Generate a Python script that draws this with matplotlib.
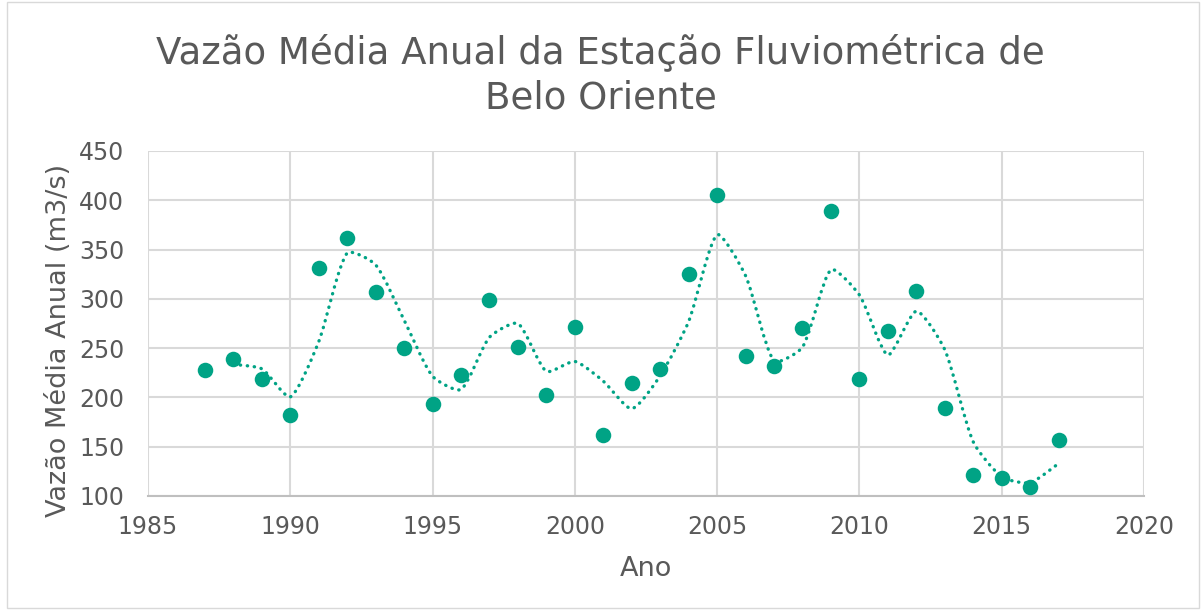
import numpy as np
import matplotlib
matplotlib.use("Agg")
import matplotlib.pyplot as plt
from matplotlib.path import Path
from matplotlib.patches import PathPatch, Rectangle

# dados
anos = [1987, 1988, 1989, 1990, 1991, 1992, 1993, 1994, 1995, 1996,
        1997, 1998, 1999, 2000, 2001, 2002, 2003, 2004, 2005, 2006,
        2007, 2008, 2009, 2010, 2011, 2012, 2013, 2014, 2015, 2016, 2017]
vazao = [228, 239, 219, 182, 331, 362, 307, 250, 193, 223,
         299, 251, 202, 271, 162, 215, 229, 325, 405, 242,
         232, 270, 389, 219, 267, 308, 189, 121, 118, 109, 157]

titulo = "Vazão Média Anual da Estação Fluviométrica de\nBelo Oriente"
cor = "#00a385"
cinza_txt = "#595959"

fig = plt.figure(figsize=(12.01, 6.10), dpi=100)
fig.patches.append(Rectangle((0.006, 0.003), 0.992, 0.994, transform=fig.transFigure,
                             fill=False, edgecolor="#d9d9d9", linewidth=1.0))
ax = fig.add_axes([0.1232, 0.1869, 0.8293, 0.5656])
ax.set_xlim(1985, 2020)
ax.set_ylim(100, 450)

ax.scatter(anos, vazao, s=125, color=cor, zorder=3, linewidths=0)

# média móvel de 2 períodos, linha suavizada (tipo Excel, calculada em pixels)
x = np.array(anos, dtype=float)
v = np.array(vazao, dtype=float)
mm = (v[1:] + v[:-1]) / 2
pts = ax.transData.transform(np.column_stack([x[1:], mm]))
n = len(pts)
verts = [pts[0]]
codes = [Path.MOVETO]
k = 0.22
for i in range(n - 1):
    p0 = pts[i - 1] if i > 0 else pts[i]
    p1 = pts[i]
    p2 = pts[i + 1]
    p3 = pts[i + 2] if i + 2 < n else pts[i + 1]
    d01 = np.hypot(*(p1 - p0))
    d12 = np.hypot(*(p2 - p1))
    d23 = np.hypot(*(p3 - p2))
    f1 = d12 / (d01 + d12) if d01 > 0 else 0.5
    f2 = d12 / (d12 + d23) if d23 > 0 else 0.5
    c1 = p1 + k * f1 * (p2 - p0)
    c2 = p2 - k * f2 * (p3 - p1)
    verts += [c1, c2, p2]
    codes += [Path.CURVE4] * 3
verts = ax.transData.inverted().transform(np.array(verts))
trend = PathPatch(Path(verts, codes), fill=False, edgecolor=cor, linewidth=2.4,
                  linestyle=(0, (0.1, 2.0)), capstyle="round", zorder=2)
ax.add_patch(trend)

ax.set_xticks(range(1985, 2021, 5))
ax.set_yticks(range(100, 451, 50))
ax.grid(True, color="#d9d9d9", linewidth=1.5)
ax.set_axisbelow(True)
for s in ["top", "right", "left"]:
    ax.spines[s].set_visible(False)
ax.spines["bottom"].set_color("#bfbfbf")
ax.spines["bottom"].set_linewidth(1.5)
ax.tick_params(axis="x", length=0, labelsize=17, labelcolor=cinza_txt, pad=14)
ax.tick_params(axis="y", length=0, labelsize=17, labelcolor=cinza_txt, pad=17)

ax.set_xlabel("Ano", fontsize=19.5, color=cinza_txt, labelpad=12)
ax.set_ylabel("Vazão Média Anual (m3/s)", fontsize=19.5, color=cinza_txt)
ax.yaxis.set_label_coords(-0.0763, 0.452)
fig.suptitle(titulo, fontsize=26.7, color=cinza_txt, y=0.945, linespacing=1.28)

fig.savefig("out.png", dpi=100)
